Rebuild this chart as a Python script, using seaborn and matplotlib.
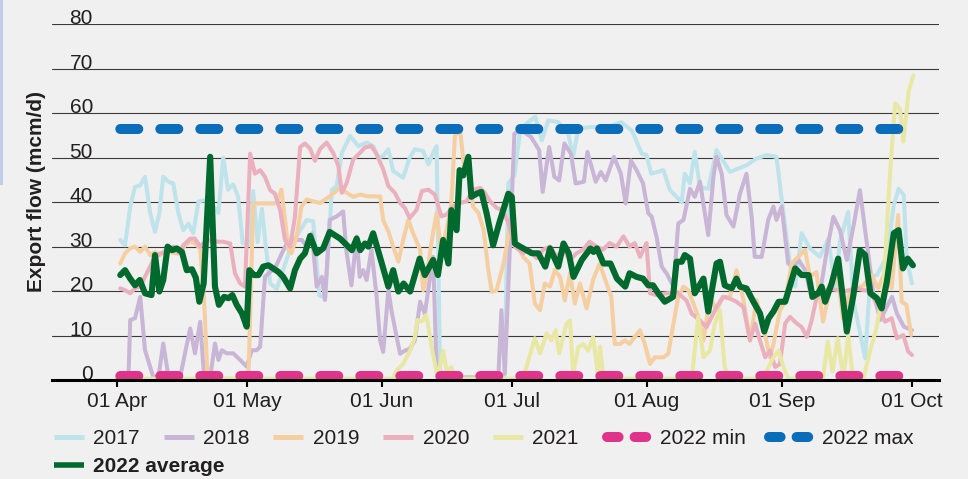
import numpy as np
import pandas as pd
import matplotlib
matplotlib.use("Agg")
import matplotlib.pyplot as plt
from matplotlib.lines import Line2D
import seaborn as sns

# day offsets from 01 Apr, values in mcm/d
start = pd.Timestamp("2022-04-01")

d2017 = [0.8, 1.9, 3.1, 4.2, 5.4, 6.5, 7.7, 8.8, 9.8, 10.7,
         11.9, 13, 14.2, 15.3, 16.5, 17.6, 18.8, 19.9, 21.5, 23.4,
         24.5, 25.6, 26.8, 27.9, 29, 30.4, 31.4, 32.4, 33.4, 34.3,
         35.3, 36.8, 38.7, 40.5, 41.8, 43.7, 45.2, 46.6, 48, 49.5,
         50.6, 51.8, 53.7, 55.6, 57.5, 59, 60.2, 61.3, 62.5, 63.6,
         65.9, 67.4, 68.6, 70.5, 71.7, 72.8, 73.6, 74.4, 76, 89.2,
         90.1, 91.5, 92.9, 96.3, 97.8, 99.3, 101.6, 103.9, 105, 106.2,
         109.3, 113, 116.1, 118.6, 120.8, 121.9, 123, 125.8, 127.3, 130,
         130.7, 131.9, 133, 134.2, 136.1, 138, 141.1, 144.9, 147.2, 149.5,
         151.8, 153.4, 154.9, 156.1, 157.6, 159.5, 161.8, 163.7, 165.3, 166.4,
         168.3, 169.5, 172.2, 173.4, 174.9, 176, 177.2, 178.8, 179.9, 181.1,
         181.8, 183]
v2017 = [31.5, 30.3, 39, 43.4, 43.8, 45.7, 37.5, 33.3, 37.5, 45.7,
         44.6, 44.2, 37.5, 33.7, 35.2, 33, 40.1, 40.4, 40, 37.6,
         50, 42.8, 44, 41.3, 30.8, 30.5, 42.5, 31, 38.5, 30,
         21.7, 20.5, 26, 31, 33, 36, 35.7, 19, 18.5, 42.8,
         43.6, 51.1, 54.9, 52.6, 53.4, 52.6, 50, 50.4, 51.9, 47,
         45.5, 50, 51.9, 51.5, 48.5, 51.1, 52.6, 1, 0.3, 0.3,
         44.2, 46, 56.6, 59.2, 53.9, 58.4, 58, 55.4, 50.2, 56.6,
         56.9, 56.9, 58, 56, 50.9, 50.6, 46.4, 47.2, 42.7, 40,
         46.4, 44.2, 51.3, 43.4, 43, 51.7, 46.8, 48.3, 49.8, 50.6,
         50.2, 37.5, 26.2, 21, 33, 29.6, 27.7, 31.8, 21, 31.1,
         37.8, 18, 4.9, 23.2, 23.6, 25.5, 27.7, 39.3, 43, 41.6,
         27, 21.7]

d2018 = [0.3, 2.7, 3.1, 4.2, 5.4, 6.5, 8.4, 9.6, 10.7, 11.9,
         14.6, 15.7, 16.9, 18, 19.2, 20.1, 21.5, 22.6, 23.4, 24.2,
         25.3, 26.8, 28.4, 29.9, 31.1, 32.2, 33, 34.1, 35.3, 36.4,
         38, 39.1, 40.6, 42.6, 43.7, 44.9, 46, 47.2, 47.9, 49,
         50.6, 52.1, 52.8, 54, 55.2, 55.9, 56.7, 57.5, 58.6, 59.8,
         60.6, 61.3, 62.5, 63.2, 64.4, 65.2, 66.3, 67.4, 68.6, 69.8,
         70.9, 72.1, 72.8, 73.6, 74.4, 87.8, 88.5, 89.3, 91.5, 93,
         95.3, 97.2, 98, 99.5, 100.7, 101.8, 103, 104.5, 105.6, 107.5,
         108.3, 110.2, 111.4, 112.5, 114.4, 116, 117.1, 118.3, 119.6, 121.1,
         122.3, 123.1, 124.2, 125.4, 126.5, 128.1, 129.2, 130.4, 131.9, 133,
         134.2, 136.1, 137.3, 138, 139.2, 140.3, 141.9, 143.4, 144.9, 146.1,
         146.8, 148.4, 149.9, 151.1, 151.8, 153, 154.5, 155.7, 156.9, 158.4,
         159.9, 161.8, 163.4, 164.9, 166.4, 168, 169.5, 171, 172.6, 174.1,
         175.7, 177.2, 178.4, 179.5, 181.1, 183]
v2018 = [0.7, 0.7, 13.5, 13.9, 18.7, 6.7, 0.7, 0.7, 8.2, 0.7,
         0.7, 6, 11.6, 6, 13.1, 0.7, 0.7, 8.2, 4.5, 6.7,
         6, 6, 4.5, 3, 6.7, 6.7, 7.5, 23.2, 24.3, 25.1,
         28.5, 30.7, 31.5, 31.5, 30, 33, 21, 23.2, 18, 36,
         36.8, 37.9, 29.3, 21.3, 32.3, 23.2, 24.7, 22.5, 29.3, 18.7,
         8.9, 6.3, 20.2, 15.7, 9.7, 5.9, 6.6, 7, 8.9, 17.6,
         14.9, 23.2, 27.7, 2.1, 0.6, 0.6, 15.7, 1.4, 55.4, 56.2,
         54.7, 51.7, 42.3, 52.4, 45.7, 44.9, 53.2, 50.9, 44.2, 44.6,
         51.3, 44.6, 46.8, 44.9, 50.2, 46.4, 39.7, 49.4, 47.2, 44.2,
         37.5, 36.7, 32.2, 25.5, 24, 21, 35.2, 36, 43, 41.2,
         44.6, 32.6, 45.7, 50.2, 46.4, 37.1, 34.5, 41.9, 46.4, 36.7,
         27.7, 27.7, 36, 39, 36, 39, 26.2, 25.5, 27, 24.7,
         18.4, 19.5, 29.2, 36.7, 33.7, 27, 34.5, 42.7, 30.7, 19.5,
         13.5, 16.5, 18.7, 15, 12, 11.2]

d2019 = [0.8, 1.9, 3.1, 4.2, 5.4, 6.5, 7.7, 8.8, 10, 11.1,
         12.3, 13.4, 14.6, 15.7, 16.9, 18, 19.2, 20.1, 20.9, 30.3,
         31.4, 33.7, 36.8, 37.9, 38.7, 39.5, 40.2, 41.4, 42.5, 43.7,
         45.2, 46.8, 49, 51.4, 52.9, 54.4, 56, 57.9, 60.6, 61.3,
         62.5, 63.6, 64.8, 65.9, 67.1, 68.2, 69.8, 70.5, 71.3, 72.5,
         73.6, 74.7, 75.9, 77, 77.8, 79, 80.1, 80.9, 82, 83.2,
         84.4, 85.5, 86.3, 87.4, 89, 90.5, 92, 93.5, 95, 96.2,
         97.4, 98.5, 99.7, 100.8, 102, 103.1, 104.3, 105.4, 106.6, 108.1,
         109.6, 111.1, 112.7, 113.8, 114.6, 115.8, 116.9, 118, 119.2, 120.4,
         121.5, 122.7, 123.8, 125.8, 126.9, 128.1, 129.2, 130.4, 131.5, 132.7,
         133.8, 135, 136.5, 138, 139.5, 141.1, 142.6, 144.2, 145.7, 147.2,
         148.8, 150.3, 151.1, 152.6, 153.8, 155.3, 156.8, 158.4, 159.5, 161,
         162.5, 164, 165.6, 167.1, 168.7, 171.8, 173.7, 175.2, 176.8, 178.3,
         179.8, 180.6, 181.7, 182.8]
v2019 = [26.2, 28.5, 29.6, 30, 28.8, 30, 28.1, 28.8, 28.1, 29.2,
         28.8, 28.5, 28.5, 30.3, 31.1, 30.7, 29.6, 18, 0.3, 0.3,
         39.7, 39.7, 39.7, 42.8, 36, 29.3, 28.5, 32.3, 39, 40.6,
         40.2, 39.8, 41.3, 43.2, 42.1, 41.2, 41.7, 41.3, 41.3, 36,
         33.4, 30, 26.6, 31.5, 36, 33, 29.3, 20.2, 23.2, 31.5,
         37.6, 28.5, 33.8, 39.8, 54.9, 56.4, 45.9, 47.4, 39, 37.6,
         33.8, 24.7, 19.8, 20.2, 26.2, 34.5, 30.8, 27.7, 26.2, 17.2,
         15.7, 21.7, 21, 24.7, 23.2, 17.9, 24, 17.2, 21.7, 16.1,
         22.5, 26.2, 21.7, 18.7, 8.1, 8.1, 8.9, 8.1, 9.7, 11.2,
         8.1, 3.6, 5.1, 5.1, 5.9, 12.7, 18.7, 21, 20.2, 17.2,
         14.2, 8.9, 18.7, 15.7, 18.7, 18.7, 24.7, 18, 8.9, 18,
         11.9, 5.1, 8.1, 15.7, 17.6, 26.2, 27.7, 29.3, 23.2, 24.3,
         13.1, 19.9, 25.8, 13.9, 19.9, 21.3, 23.6, 20.6, 24.3, 20.6,
         37.1, 17.6, 16.9, 10.1]

d2020 = [0.8, 1.9, 3.1, 4.2, 5.4, 8.4, 10, 11.5, 13, 14.2,
         15.3, 16.9, 18, 19.2, 20.7, 23.4, 24.5, 26.1, 27.2, 28.4,
         29.5, 30.7, 31.8, 33, 34.1, 35.3, 36.4, 37.6, 38.7, 39.9,
         41, 42.2, 43.3, 44.5, 45.6, 46.8, 48.3, 49.8, 51, 51.8,
         52.9, 54.4, 56, 57.1, 58.6, 59.8, 61.3, 62.5, 64, 65.2,
         66.3, 67.4, 69, 70.2, 71.7, 73.2, 74.7, 75.9, 77.4, 79,
         80.5, 82, 83.6, 84.7, 85.9, 87.4, 88.5, 90, 91.6, 93.5,
         95, 96.6, 98.1, 99.7, 101.2, 102.7, 104.3, 105.8, 107.3, 108.8,
         110.4, 111.9, 113.4, 115, 116.6, 118, 119.2, 120.4, 121.9, 122.7,
         124.2, 126.5, 128.8, 131.1, 132.3, 134.2, 135.7, 136.9, 138, 139.5,
         141.1, 142.6, 144.2, 145.7, 146.9, 148, 149.2, 150.3, 151.5, 152.6,
         153.8, 154.9, 156.5, 157.6, 158.8, 159.9, 161, 162.5, 164, 167.1,
         170.2, 173.3, 175.2, 176.8, 178.3, 179.5, 181, 182.1, 183]
v2020 = [20.6, 20.2, 19.5, 20.6, 21, 27, 28.5, 28.8, 30, 28.5,
         30.3, 31.8, 31.8, 30, 31.5, 31.1, 31.1, 30.7, 24, 21.7,
         21, 50.9, 46.4, 47.2, 45.7, 42.7, 41.9, 38.2, 31.5, 30,
         36.7, 52.4, 53.2, 52, 49.3, 52, 53.4, 51.1, 48.1, 42.1,
         44.3, 49.6, 51.1, 52.3, 52.6, 50.8, 47.4, 43.6, 42.1, 39.8,
         38.7, 36.4, 38.3, 42.5, 42.8, 41.7, 36.8, 37.2, 39, 39.8,
         40.2, 42.8, 43.2, 42.1, 40.2, 38.7, 38.3, 35.7, 30, 28.5,
         29.3, 27.4, 29.3, 30, 27.7, 29.3, 27, 28.5, 29.3, 31.1,
         30, 29.3, 30.8, 30, 32.3, 30, 30.8, 27.7, 30.8, 19.5,
         19.1, 19.5, 19.8, 17.9, 14.9, 13.4, 11.9, 14.2, 16.4, 18.7,
         18.3, 17.6, 16.4, 8.9, 12.7, 8.9, 5.1, 6.6, 2.9, 3.6,
         12.7, 14.2, 12.7, 11.9, 9.7, 13.4, 18.4, 19.9, 20.6, 19.9,
         20.6, 19.9, 16.5, 13.1, 13.9, 9.4, 10.1, 6.4, 5.6]

d2021 = [0, 63.6, 64.4, 65.9, 67.5, 68.6, 69.2, 70.2, 71.2, 72.6,
         73.8, 75.1, 75.9, 77, 77.8, 93.5, 96.2, 97.4, 98.9, 100,
         101, 101.8, 103.5, 104.3, 105, 106.2, 107.3, 108.5, 109.6, 110.8,
         111.2, 112, 132.3, 133.8, 135, 136.5, 137.6, 138.8, 139.9, 141.1,
         148.8, 150, 151.1, 152.3, 153.4, 154.5, 162.5, 163.6, 164.7, 165.9,
         167.2, 168.3, 169.4, 171.8, 173.3, 174.8, 176.4, 177.9, 179.1, 180.2,
         181, 182.2, 183.3]
v2021 = [0.3, 0.3, 2.2, 3.6, 6.6, 9.7, 13.5, 13.2, 14.6, 6.7,
         0.6, 6.6, 2.1, 2.9, 0.3, 0.3, 9.4, 6, 10.5, 8.9,
         11.2, 6, 12.7, 13.4, 1.4, 7.4, 8.1, 6.6, 9.7, 0.6,
         7.5, 0.3, 0.3, 14.2, 5.1, 6.6, 12.7, 15.7, 2.9, 0.3,
         0.3, 2.9, 5.1, 6.6, 2.9, 0.3, 0.4, 8.6, 1.9, 9.4,
         0.4, 10.1, 0.4, 0.4, 6.4, 11.6, 20.6, 46, 62.2, 61,
         53.6, 64.8, 68.5]

d_avg = [0.8, 1.9, 3.1, 4.2, 5.3, 6.5, 8, 8.8, 9.8, 10.7,
         11.7, 12.7, 13.8, 15, 16.1, 17.3, 18.2, 19, 20, 21.5,
         22.6, 23.5, 24.7, 25.7, 26.6, 27.6, 28.8, 29.9, 30.5, 31.6,
         32.6, 33.7, 34.9, 36, 37.2, 38.3, 39.9, 41, 42.2, 43.3,
         44.5, 46, 47.5, 49, 51.4, 54.1, 55.2, 56, 57.1, 57.9,
         59, 61, 62.5, 63.6, 64.8, 66, 67.5, 69.7, 70.9, 72.8,
         73.9, 75.1, 76.3, 77, 78.2, 78.9, 79.7, 80.9, 81.6, 82.8,
         83.9, 85.1, 86.6, 88.1, 90.1, 90.9, 91.6, 92.8, 94.3, 95.5,
         97, 98.6, 99.7, 101.6, 102.8, 104, 105.1, 107, 109, 109.7,
         110.5, 112, 113.6, 115.1, 117, 118, 119.6, 121.1, 122.3, 123.4,
         124.6, 126.1, 128, 128.8, 130, 130.7, 131.9, 133, 135, 136.1,
         138, 138.8, 139.9, 141.5, 142.6, 143.4, 144.9, 146.5, 148, 149,
         150, 151.1, 152.3, 153.8, 156.1, 157.6, 159.2, 160.1, 161.4, 162.2,
         163, 164.5, 166, 168, 169.5, 171, 172.2, 173.4, 174.9, 176,
         177.2, 178.8, 179.9, 180.9, 182, 183.2]
v_avg = [23.6, 24.7, 22.8, 21.3, 22.5, 19.5, 19.1, 28.1, 19.9, 22.5,
         30, 29.2, 29.6, 28.8, 24.7, 24.9, 23, 17.6, 21.7, 50.2,
         21, 16.9, 18.7, 18.4, 19.1, 16.9, 15, 12, 24.7, 23.6,
         23.6, 25.5, 25.8, 25.1, 24.3, 23.2, 20.6, 24.7, 27.3, 28.5,
         32.4, 28.5, 29.6, 33.3, 31.8, 29.2, 31.8, 29.2, 30.7, 30,
         33, 26.2, 21, 24.7, 19.9, 21.7, 19.9, 27.3, 23.6, 27,
         23.6, 31.5, 26.2, 38.2, 33.7, 47.2, 46, 50.2, 41.2, 41.9,
         42.3, 37.5, 30.3, 35.6, 41.9, 41.2, 30.7, 30, 29.2, 28.5,
         28.5, 25.5, 29.6, 25.5, 30.7, 28.5, 23.2, 27, 29.6, 28.8,
         29.6, 26.2, 26.2, 22.8, 21, 24, 23.2, 22.8, 21.3, 21.3,
         19.5, 17.6, 18.7, 26.6, 26.6, 28.1, 27.3, 19.5, 22.8, 15.4,
         26.2, 26.6, 21.3, 20.6, 22.8, 21, 20.6, 17.6, 15, 10.9,
         13.9, 15.4, 17.6, 17.6, 25.1, 23.6, 23.6, 18.7, 19.5, 21,
         17.6, 21.7, 27.3, 10.9, 19.1, 29.2, 28.1, 19.5, 18.4, 16.1,
         22.1, 33, 33.7, 25.1, 27.3, 25.8]

d_minmax = [0, 183]
v_min = [1.0, 1.0]
v_max = [56.5, 56.5]

years = ["2017", "2018", "2019", "2020", "2021"]
year_days = [d2017, d2018, d2019, d2020, d2021]
year_vals = [v2017, v2018, v2019, v2020, v2021]
year_colors = ["#bfe3ea", "#c9b5d6", "#f5cfa2", "#eab0bd", "#e8e8a4"]
c_min, c_max, c_avg = "#e0348b", "#0a6dba", "#006a2e"
ink = "#231f20"
bg = "#f0f0f0"


def to_dates(days):
    return start + pd.to_timedelta(np.array(days, dtype=float), unit="D")


sns.set_theme(style="white")
plt.rcParams["font.family"] = ["Liberation Sans", "DejaVu Sans"]
plt.rcParams["font.size"] = 15

fig = plt.figure(figsize=(9.68, 4.79), dpi=100, facecolor=bg)
ax = fig.add_axes([52 / 968, 1 - 380 / 479, 887 / 968, 355.7 / 479])
ax.set_facecolor(bg)

for name, d, v, c in zip(years, year_days, year_vals, year_colors):
    sns.lineplot(x=to_dates(d), y=v, ax=ax, color=c, lw=2.9, estimator=None,
                 sort=False, legend=False, solid_joinstyle="round",
                 solid_capstyle="round")

for v, c in [(v_min, c_min), (v_max, c_max)]:
    sns.lineplot(x=to_dates(d_minmax), y=v, ax=ax, color=c, lw=7.2,
                 estimator=None, legend=False,
                 linestyle=(3.67, (1.8, 2.2)), dash_capstyle="round")

sns.lineplot(x=to_dates(d_avg), y=v_avg, ax=ax, color=c_avg, lw=4.4,
             estimator=None, sort=False, legend=False,
             solid_joinstyle="round", solid_capstyle="round")

# axes
ax.set_xlim(start - pd.Timedelta(days=14.9), start + pd.Timedelta(days=189.2))
ax.set_ylim(0, 80)
months = pd.date_range("2022-04-01", "2022-10-01", freq="MS")
ax.set_xticks(months)
ax.set_xticklabels([m.strftime("%d %b") for m in months])
ax.set_yticks(range(0, 81, 10))
ax.set_yticklabels([str(t) for t in range(0, 81, 10)])
ax.set_xlabel("")
ax.set_ylabel("")

ax.tick_params(axis="x", length=5, width=1.5, color="black", pad=3.5,
               labelsize=15, labelcolor=ink, direction="out", bottom=True)
ax.tick_params(axis="y", length=0, pad=-29.5, labelsize=15, labelcolor=ink)
plt.setp(ax.get_yticklabels(), va="baseline", ha="right")

ax.yaxis.grid(True, color="#3a3a3a", lw=0.8)
ax.xaxis.grid(False)
ax.set_axisbelow(True)
for s in ["left", "top", "right"]:
    ax.spines[s].set_visible(False)
ax.spines["bottom"].set_color("black")
ax.spines["bottom"].set_linewidth(2.2)
ax.spines["bottom"].set_zorder(5)

fig.text(37 / 968, 1 - 191.5 / 479, "Export flow (mcm/d)", rotation=90,
         ha="center", va="center", fontsize=15, fontweight="bold", color=ink)

# legends
h_years = [Line2D([], [], color=c, lw=3.6, solid_capstyle="butt") for c in year_colors]
leg1 = fig.legend(handles=h_years, labels=years, loc="center left",
                  bbox_to_anchor=(53.7 / 968, 1 - 439 / 479), ncol=5,
                  frameon=False, handlelength=1.44, handletextpad=0.45,
                  columnspacing=1.15, borderpad=0, borderaxespad=0,
                  fontsize=15, labelcolor=ink)

h_mm = [Line2D([], [], color=c, lw=7.2, linestyle=(0, (1.16, 1.6)),
               dash_capstyle="round") for c in (c_min, c_max)]
leg2 = fig.legend(handles=h_mm, labels=["2022 min", "2022 max"], loc="center left",
                  bbox_to_anchor=(607 / 968, 1 - 439 / 479), ncol=2,
                  frameon=False, handlelength=2.0, handletextpad=0.55,
                  columnspacing=1.1, borderpad=0, borderaxespad=0,
                  fontsize=15, labelcolor=ink)

h_avg = [Line2D([], [], color=c_avg, lw=4.0, solid_capstyle="butt")]
leg3 = fig.legend(handles=h_avg, labels=["2022 average"], loc="center left",
                  bbox_to_anchor=(53.7 / 968, 1 - 467 / 479), ncol=1,
                  frameon=False, handlelength=1.44, handletextpad=0.45,
                  borderpad=0, borderaxespad=0, labelcolor=ink,
                  prop={"size": 15, "weight": "bold"})

# thin strip on the left edge of the original
fig.add_artist(plt.Rectangle((0, 1 - 185 / 479), 2.5 / 968, 185 / 479,
                             transform=fig.transFigure, color="#c3cbea", lw=0))

fig.savefig("out.png", dpi=100, facecolor=bg)
